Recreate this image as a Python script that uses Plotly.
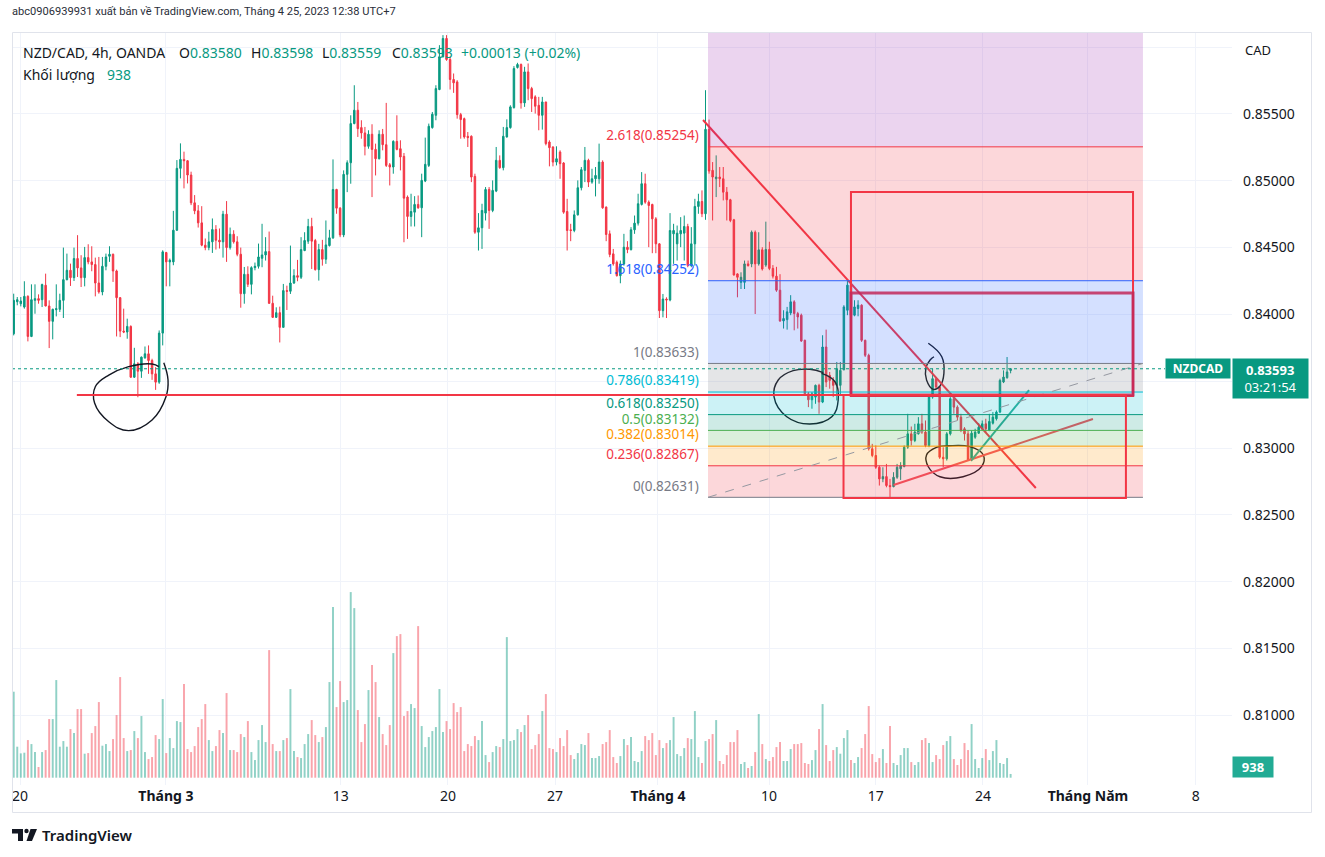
import plotly.graph_objects as go

# ---------------- data ----------------
opens = [
0.83855,0.84095,0.84080,0.84055,0.84135,0.83835,0.84105,0.84118,0.84110,0.84218,
0.84063,0.83948,0.84035,0.84038,0.84105,0.84260,0.84330,0.84275,0.84418,0.84348,
0.84275,0.84425,0.84393,0.84373,0.84235,0.84168,0.84360,0.84435,0.84450,0.84325,
0.84125,0.83875,0.83868,0.83910,0.83530,0.83630,0.83575,0.83675,0.83705,0.83655,
0.83555,0.83493,0.83860,0.84463,0.84393,0.84393,0.84630,0.85093,0.85160,0.85150,
0.85043,0.84835,0.84775,0.84685,0.84518,0.84500,0.84543,0.84635,0.84555,0.84543,
0.84750,0.84500,0.84600,0.84543,0.84450,0.84155,0.84300,0.84225,0.84350,0.84360,
0.84420,0.84445,0.84470,0.84083,0.83978,0.84013,0.83903,0.84178,0.84173,0.84235,
0.84290,0.84278,0.84478,0.84548,0.84658,0.84553,0.84335,0.84485,0.84413,0.84515,
0.84573,0.84935,0.84795,0.84595,0.85048,0.85135,0.85428,0.85528,0.85398,0.85358,
0.85258,0.85348,0.85235,0.85165,0.85348,0.85270,0.85120,0.85103,0.85295,0.85240,
0.85183,0.84878,0.84733,0.84765,0.84823,0.84798,0.84998,0.85115,0.85398,0.85490,
0.85683,0.85928,0.86065,0.85908,0.85758,0.85740,0.85495,0.85465,0.85333,0.85333,
0.85033,0.84615,0.84648,0.84758,0.84935,0.84778,0.84923,0.85153,0.85098,0.85328,
0.85398,0.85548,0.85848,0.85870,0.85583,0.85815,0.85690,0.85628,0.85565,0.85490,
0.85590,0.85290,0.85253,0.85140,0.85215,0.85133,0.84770,0.84633,0.84628,0.84745,
0.84948,0.85078,0.85153,0.84990,0.85015,0.85015,0.85140,0.84803,0.84603,0.84453,
0.84390,0.84290,0.84378,0.84503,0.84485,0.84633,0.84683,0.84823,0.84978,0.84840,
0.84823,0.84715,0.84528,0.84028,0.84115,0.84108,0.84603,0.84528,0.84603,0.84608,
0.84658,0.84365,0.84528,0.84808,0.84845,0.84753,0.85385,0.85078,0.85015,0.85028,
0.85015,0.84915,0.84858,0.84708,0.84303,0.84240,0.84240,0.84378,0.84378,0.84615,
0.84378,0.84483,0.84369,0.84486,0.84344,0.84286,0.84181,0.83951,0.83961,0.84011,
0.84094,0.84006,0.83994,0.83806,0.83406,0.83361,0.83381,0.83469,0.83344,0.83756,
0.83544,0.83506,0.83469,0.83469,0.83586,0.84031,0.84219,0.83994,0.84044,0.84069,
0.83806,0.83694,0.82994,0.82944,0.82856,0.82769,0.82786,0.82719,0.82711,0.82781,
0.82844,0.82861,0.83006,0.83106,0.83056,0.83106,0.83181,0.83119,0.83019,0.83381,
0.83519,0.83456,0.82931,0.82919,0.83106,0.83369,0.83306,0.83231,0.83144,0.83106,
0.82911,0.83081,0.83111,0.83144,0.83181,0.83131,0.83186,0.83219,0.83269,0.83494,
0.83526,0.83580]

highs = [
0.84155,0.84130,0.84130,0.84248,0.84143,0.84225,0.84225,0.84150,0.84230,0.84305,
0.84105,0.84043,0.84225,0.84155,0.84500,0.84455,0.84380,0.84500,0.84593,0.84443,
0.84505,0.84525,0.84510,0.84425,0.84430,0.84430,0.84455,0.84510,0.84455,0.84335,
0.84130,0.84043,0.83968,0.83918,0.83750,0.83643,0.83685,0.83760,0.83768,0.83668,
0.83605,0.83880,0.84480,0.84468,0.84418,0.84775,0.85155,0.85280,0.85218,0.85155,
0.85068,0.84893,0.84818,0.84810,0.84568,0.84618,0.84718,0.84668,0.84643,0.84775,
0.84848,0.84650,0.84630,0.84585,0.84500,0.84355,0.84360,0.84360,0.84388,0.84530,
0.84678,0.84578,0.84620,0.84140,0.84053,0.84058,0.84228,0.84215,0.84515,0.84338,
0.84408,0.84578,0.84615,0.84715,0.84723,0.84565,0.84528,0.84558,0.84703,0.84633,
0.85160,0.84940,0.84803,0.85078,0.85153,0.85490,0.85715,0.85590,0.85453,0.85403,
0.85378,0.85423,0.85278,0.85378,0.85388,0.85583,0.85133,0.85303,0.85490,0.85303,
0.85208,0.84890,0.84903,0.84885,0.84890,0.85053,0.85323,0.85428,0.85515,0.85715,
0.86015,0.86090,0.86090,0.85928,0.85803,0.85753,0.85508,0.85473,0.85365,0.85340,
0.85053,0.84758,0.84828,0.84953,0.84953,0.85003,0.85253,0.85190,0.85403,0.85460,
0.85565,0.85858,0.85883,0.85878,0.85853,0.85878,0.85703,0.85640,0.85628,0.85628,
0.85590,0.85303,0.85258,0.85258,0.85228,0.85140,0.84865,0.84678,0.84778,0.85003,
0.85103,0.85253,0.85165,0.85090,0.85103,0.85278,0.85153,0.84808,0.84628,0.84490,
0.84403,0.84403,0.84603,0.84548,0.84653,0.84740,0.84903,0.85065,0.85053,0.84853,
0.84828,0.84728,0.84533,0.84153,0.84128,0.84758,0.84678,0.84665,0.84728,0.84740,
0.84678,0.84653,0.84865,0.84903,0.84928,0.85678,0.85458,0.85140,0.85190,0.85103,
0.85103,0.84953,0.84865,0.84715,0.84308,0.84315,0.84403,0.84403,0.84628,0.84628,
0.84615,0.84503,0.84694,0.84544,0.84369,0.84356,0.84301,0.84031,0.84056,0.84144,
0.84106,0.84019,0.84006,0.83811,0.83419,0.83419,0.83475,0.83481,0.83844,0.83886,
0.83569,0.83531,0.83644,0.83644,0.84069,0.84256,0.84244,0.84106,0.84106,0.84076,
0.83811,0.83706,0.83031,0.83019,0.82869,0.82856,0.82881,0.82769,0.82819,0.82881,
0.82894,0.83019,0.83256,0.83161,0.83181,0.83231,0.83256,0.83206,0.83394,0.83594,
0.83531,0.83461,0.83006,0.83119,0.83381,0.83381,0.83319,0.83256,0.83156,0.83131,
0.83131,0.83144,0.83186,0.83206,0.83219,0.83256,0.83269,0.83281,0.83519,0.83581,
0.83681,0.83598]

lows = [
0.83843,0.84068,0.84060,0.84043,0.83798,0.83830,0.84005,0.84080,0.84055,0.84060,
0.83748,0.83813,0.83985,0.84018,0.83973,0.84255,0.84213,0.84250,0.84280,0.84205,
0.84210,0.84375,0.84323,0.84135,0.84155,0.84143,0.84330,0.84393,0.84243,0.83835,
0.83830,0.83860,0.83818,0.83525,0.83525,0.83380,0.83525,0.83668,0.83555,0.83510,
0.83435,0.83480,0.83768,0.84210,0.84210,0.84368,0.84625,0.85018,0.84943,0.84980,
0.84818,0.84750,0.84650,0.84510,0.84480,0.84480,0.84460,0.84485,0.84493,0.84425,
0.84393,0.84485,0.84530,0.84435,0.84050,0.84080,0.84205,0.84150,0.84330,0.84343,
0.84353,0.84403,0.84078,0.83973,0.83973,0.83790,0.83903,0.84033,0.84153,0.84228,
0.84248,0.84265,0.84473,0.84528,0.84340,0.84328,0.84253,0.84365,0.84378,0.84508,
0.84565,0.84753,0.84578,0.84578,0.84915,0.84978,0.85423,0.85328,0.85315,0.85190,
0.85240,0.84878,0.85040,0.85160,0.85228,0.85103,0.84965,0.85053,0.85228,0.85078,
0.84540,0.84565,0.84658,0.84658,0.84790,0.84578,0.84990,0.85103,0.85390,0.85453,
0.85678,0.85923,0.85898,0.85683,0.85658,0.85465,0.85315,0.85315,0.85253,0.84990,
0.84603,0.84478,0.84490,0.84703,0.84640,0.84765,0.84915,0.85090,0.85078,0.85323,
0.85390,0.85540,0.85840,0.85540,0.85553,0.85603,0.85515,0.85503,0.85378,0.85383,
0.85265,0.85108,0.85108,0.85115,0.85015,0.84753,0.84478,0.84548,0.84615,0.84740,
0.84928,0.84990,0.84953,0.84978,0.84883,0.84978,0.84790,0.84548,0.84428,0.84365,
0.84283,0.84233,0.84365,0.84458,0.84478,0.84603,0.84665,0.84815,0.84828,0.84503,
0.84458,0.84458,0.83973,0.83978,0.83973,0.84098,0.84378,0.84403,0.84503,0.84403,
0.84353,0.84353,0.84365,0.84753,0.84728,0.84708,0.85053,0.84703,0.84878,0.84953,
0.84853,0.84703,0.84690,0.84290,0.84128,0.84190,0.84190,0.84358,0.84353,0.84003,
0.84365,0.84328,0.84356,0.84331,0.84269,0.84169,0.83944,0.83894,0.83886,0.83994,
0.83881,0.83894,0.83794,0.83401,0.83306,0.83294,0.83331,0.83256,0.83336,0.83456,
0.83444,0.83381,0.83356,0.83394,0.83581,0.83994,0.83981,0.83986,0.83986,0.83794,
0.83681,0.82981,0.82931,0.82844,0.82719,0.82744,0.82706,0.82631,0.82706,0.82769,
0.82761,0.82856,0.82994,0.83019,0.83044,0.83101,0.83106,0.83006,0.83006,0.83369,
0.83444,0.82919,0.82856,0.82906,0.83094,0.83256,0.83206,0.83119,0.83056,0.82906,
0.82901,0.83069,0.83106,0.83131,0.83119,0.83126,0.83176,0.83206,0.83261,0.83486,
0.83519,0.83559]

closes = [
0.84105,0.84110,0.84100,0.84135,0.83835,0.84110,0.84118,0.84105,0.84223,0.84063,
0.83948,0.84038,0.84043,0.84105,0.84260,0.84330,0.84275,0.84418,0.84348,0.84275,
0.84425,0.84393,0.84373,0.84235,0.84168,0.84360,0.84430,0.84450,0.84325,0.84125,
0.83875,0.83868,0.83910,0.83530,0.83630,0.83575,0.83680,0.83705,0.83655,0.83555,
0.83493,0.83860,0.84468,0.84393,0.84405,0.84630,0.85093,0.85160,0.85150,0.85043,
0.84835,0.84775,0.84685,0.84518,0.84500,0.84543,0.84635,0.84555,0.84543,0.84750,
0.84500,0.84600,0.84543,0.84450,0.84155,0.84300,0.84225,0.84350,0.84360,0.84430,
0.84445,0.84470,0.84083,0.83978,0.84013,0.83903,0.84178,0.84173,0.84235,0.84290,
0.84278,0.84485,0.84553,0.84658,0.84548,0.84335,0.84485,0.84413,0.84520,0.84573,
0.84935,0.84795,0.84595,0.85048,0.85135,0.85428,0.85528,0.85390,0.85358,0.85258,
0.85348,0.85235,0.85165,0.85348,0.85270,0.85115,0.85103,0.85295,0.85235,0.85178,
0.84870,0.84733,0.84770,0.84823,0.84798,0.85003,0.85123,0.85408,0.85498,0.85690,
0.85928,0.86065,0.85908,0.85758,0.85733,0.85495,0.85458,0.85328,0.85323,0.85028,
0.84615,0.84648,0.84778,0.84935,0.84778,0.84928,0.85153,0.85098,0.85333,0.85398,
0.85553,0.85840,0.85870,0.85583,0.85815,0.85690,0.85615,0.85558,0.85490,0.85590,
0.85278,0.85248,0.85140,0.85165,0.85128,0.84765,0.84628,0.84628,0.84745,0.84948,
0.85083,0.85153,0.84990,0.85015,0.85040,0.85140,0.84798,0.84598,0.84448,0.84378,
0.84290,0.84378,0.84503,0.84485,0.84633,0.84683,0.84828,0.84978,0.84840,0.84815,
0.84715,0.84528,0.84028,0.84115,0.84108,0.84628,0.84628,0.84608,0.84628,0.84658,
0.84365,0.84528,0.84808,0.84845,0.84753,0.85385,0.85073,0.85028,0.85028,0.85015,
0.84915,0.84858,0.84703,0.84295,0.84278,0.84278,0.84378,0.84365,0.84615,0.84378,
0.84483,0.84340,0.84486,0.84344,0.84286,0.84181,0.83951,0.83969,0.84019,0.84094,
0.84006,0.83981,0.83801,0.83406,0.83361,0.83406,0.83469,0.83344,0.83756,0.83494,
0.83506,0.83469,0.83594,0.83581,0.84056,0.84219,0.83994,0.84056,0.84069,0.83806,
0.83694,0.82994,0.82944,0.82856,0.82769,0.82786,0.82719,0.82711,0.82781,0.82856,
0.82869,0.83006,0.83106,0.83056,0.83119,0.83181,0.83119,0.83019,0.83381,0.83519,
0.83456,0.82931,0.82919,0.83106,0.83369,0.83306,0.83231,0.83131,0.83106,0.82911,
0.83111,0.83119,0.83156,0.83181,0.83144,0.83199,0.83231,0.83269,0.83506,0.83531,
0.83569,0.83593]

volumes = [
21500,7750,6080,6250,9410,8410,6410,2670,6410,6910,
14660,14660,24410,7750,9160,7750,12160,11160,17160,17160,
6000,6160,11160,12910,18910,8000,8410,6660,9660,15660,
25160,9910,6660,6910,11660,9910,15410,6410,4660,5160,
10660,9660,19660,6160,9910,7410,14160,13910,23410,7160,
6410,7910,12660,14660,18410,9410,6660,7910,11910,11160,
21160,6910,6910,6410,10910,10160,14160,6410,4410,9410,
13160,8910,31900,8410,6660,6660,9410,9910,22160,6660,
5160,4910,8410,10910,14410,10660,8910,10160,12660,23910,
42650,17660,24160,18910,19410,46400,42400,16910,8910,13410,
21910,28150,23910,15160,10910,8160,13160,31150,35400,35900,
15410,16660,18410,17410,37900,12910,7660,10160,11660,12660,
22160,11410,14160,12160,18660,16410,17660,6660,8410,7910,
10410,9410,14160,5660,3910,6410,7910,7660,9660,35150,
9160,9410,12160,11410,13160,15660,7160,8160,10910,16660,
20910,7410,7160,6410,9910,7910,11910,5660,4660,6160,
8410,8160,11160,4910,4910,5410,8410,8910,11910,5160,
3670,5410,9660,8160,10160,4170,3910,6660,10410,9410,
11160,5660,9410,7410,8660,9410,15160,5910,5410,7410,
9910,9660,16660,5160,3670,9160,9660,10910,14410,4170,
3420,5660,8910,8910,11910,3420,3910,2420,2920,6410,
15910,8410,4660,4170,5160,7660,8910,4170,4170,7160,
8410,8410,8660,3670,3420,4410,6910,12160,18410,8160,
4170,6910,7660,6000,9910,11910,4410,3670,5160,7410,
10910,17910,5910,3910,4910,7160,3670,12910,3670,3170,
5660,7410,7410,3910,3170,3910,9410,9910,8660,3910,
5660,4660,8160,9160,10410,4660,3170,4660,8660,6910,
13410,4660,2420,4910,7160,4410,6660,9410,3670,3420,
4910,938]

assert len(opens) == len(highs) == len(lows) == len(closes) == len(volumes)
bar_index = list(range(len(closes)))

# time axis: bar index where each labelled date starts
date_tick_pos = [1.8, 42.9, 92.2, 122.4, 152.6, 181.6, 212.9, 243.0, 273.2, 302.8, 333.2]
date_tick_text = ["20", "<b>Tháng 3</b>", "13", "20", "27", "<b>Tháng 4</b>",
                  "10", "17", "24", "<b>Tháng Năm</b>", "8"]

# 0.835 and 0.860 labels are hidden behind the price tag / currency label in the reference
price_ticks = [0.810, 0.815, 0.820, 0.825, 0.830, 0.835, 0.840, 0.845, 0.850, 0.855, 0.860]
price_tick_text = ["0.81000", "0.81500", "0.82000", "0.82500", "0.83000", "",
                   "0.84000", "0.84500", "0.85000", "0.85500", ""]

last_price = 0.83593

# Fibonacci retracement drawing
fib_x0, fib_x1 = 195.7, 318.3
fib_prices = [0.82631, 0.82867, 0.83014, 0.83132, 0.83250, 0.83419, 0.83633, 0.84252, 0.85254, 0.86256]
fib_labels = ["0(0.82631)", "0.236(0.82867)", "0.382(0.83014)", "0.5(0.83132)", "0.618(0.83250)",
              "0.786(0.83419)", "1(0.83633)", "1.618(0.84252)", "2.618(0.85254)", "3.618(0.86256)"]
fib_line_colors = ["#787b86", "#f23645", "#ff9800", "#4caf50", "#089981",
                   "#00bcd4", "#787b86", "#2962ff", "#f23645", "#9c27b0"]
fib_zone_colors = ["rgba(242,54,69,0.2)", "rgba(255,152,0,0.2)", "rgba(76,175,80,0.2)",
                   "rgba(8,153,129,0.2)", "rgba(0,188,212,0.2)", "rgba(120,123,134,0.2)",
                   "rgba(41,98,255,0.2)", "rgba(242,54,69,0.2)", "rgba(156,39,176,0.2)"]

# other drawings: (bar index, price)
down_line = [(194.3, 0.85455), (288.1, 0.82701)]
rise_line = [(248.0, 0.82723), (304.2, 0.83217)]
green_line = [(270.0, 0.82910), (286.2, 0.83434)]
support_line = [(17.8, 0.83397), (311.0, 0.83397)]
rect_upper = [(236.0, 0.83389), (315.5, 0.84916)]
rect_zone = [(236.0, 0.83397), (315.5, 0.84160)]
rect_lower = [(233.9, 0.82626), (313.5, 0.83397)]

circle1_x = [42.3, 43.5, 42.9, 39.0, 32.4, 26.8, 22.8, 23.0, 26.8, 32.4, 39.0, 40.9]
circle1_y = [0.83638, 0.83509, 0.83382, 0.83210, 0.83130, 0.83197, 0.83337, 0.83459, 0.83546, 0.83609, 0.83629, 0.83609]
circle2_x = [227.7, 231.5, 232.4, 230.6, 224.4, 217.9, 214.3, 215.5, 219.7, 224.4, 228.2]
circle2_y = [0.83559, 0.83496, 0.83359, 0.83234, 0.83180, 0.83234, 0.83384, 0.83509, 0.83579, 0.83589, 0.83564]
circle3_x = [257.8, 261.6, 262.2, 261.1, 259.2, 257.3, 257.1, 258.3, 259.4]
circle3_y = [0.83784, 0.83683, 0.83559, 0.83464, 0.83439, 0.83509, 0.83597, 0.83659, 0.83683]
circle4_x = [263.0, 269.5, 273.3, 272.8, 267.6, 261.1, 257.8, 257.3, 260.1, 264.4]
circle4_y = [0.83015, 0.83010, 0.82948, 0.82860, 0.82785, 0.82785, 0.82860, 0.82948, 0.83005, 0.83017]

# ---------------- styling ----------------
FONT = "Noto Sans"
TXT = "#131722"
UP = "#089981"
DOWN = "#f23645"
GRID = "#f0f3fa"

# plot area on screen: x 12..1232, y 33..785 (body margin is removed by post_script)
W, H = 1325, 857
L_M, T_M = 12, 33
PW, PH = 1220, 752
R_M, B_M = W - L_M - PW, H - T_M - PH
SX0, SY1 = 12, 785


def px_x(px):
    return (px - SX0) / PW


def px_y(py):
    return (SY1 - py) / PH


vol_colors = ["rgba(8,153,129,0.45)" if c >= o else "rgba(242,54,69,0.45)"
              for o, c in zip(opens, closes)]

fig = go.Figure()

# fib labels (drawn under the candles)
fig.add_trace(go.Scatter(
    x=[fib_x0 - 2.6] * 9, y=[p + 0.00025 for p in fib_prices[:9]], mode="text", text=fib_labels[:9],
    textposition="top left",
    textfont=dict(family=FONT, size=13.5, color=fib_line_colors[:9]),
    hoverinfo="skip", showlegend=False, cliponaxis=False))

fig.add_trace(go.Bar(
    x=bar_index, y=volumes, yaxis="y2", marker=dict(color=vol_colors, line=dict(width=0)),
    width=0.55, hoverinfo="skip", showlegend=False))

fig.add_trace(go.Candlestick(
    x=bar_index, open=opens, high=highs, low=lows, close=closes,
    increasing=dict(line=dict(color=UP, width=1), fillcolor=UP),
    decreasing=dict(line=dict(color=DOWN, width=1), fillcolor=DOWN),
    whiskerwidth=0, hoverinfo="skip", showlegend=False))

for cx, cy in [(circle1_x, circle1_y), (circle2_x, circle2_y),
               (circle3_x, circle3_y), (circle4_x, circle4_y)]:
    fig.add_trace(go.Scatter(x=cx, y=cy, mode="lines",
                             line=dict(color="#131722", width=1.4, shape="spline", smoothing=1.2),
                             hoverinfo="skip", showlegend=False))

shapes = []


def data_line(p0, p1, color, width, dash="solid"):
    shapes.append(dict(type="line", xref="x", yref="y", x0=p0[0], y0=p0[1], x1=p1[0], y1=p1[1],
                       line=dict(color=color, width=width, dash=dash), layer="above"))


def data_rect(p0, p1, color, width):
    shapes.append(dict(type="rect", xref="x", yref="y", x0=p0[0], y0=p0[1], x1=p1[0], y1=p1[1],
                       line=dict(color=color, width=width), fillcolor="rgba(0,0,0,0)", layer="above"))


data_line(down_line[0], down_line[1], "#f23645", 2)
data_line(rise_line[0], rise_line[1], "#f2545f", 2)
data_line(green_line[0], green_line[1], "#2fae98", 2)

for i in range(9):
    shapes.append(dict(type="rect", xref="x", yref="y", x0=fib_x0, x1=fib_x1,
                       y0=fib_prices[i], y1=fib_prices[i + 1], fillcolor=fib_zone_colors[i],
                       line=dict(width=0), layer="above"))
for i in range(10):
    data_line((fib_x0, fib_prices[i]), (fib_x1, fib_prices[i]), fib_line_colors[i], 1)
data_line((fib_x0, fib_prices[0]), (fib_x1, fib_prices[6]), "#9598a1", 1, "dash")

data_line(support_line[0], support_line[1], "#f23645", 2)
data_rect(rect_upper[0], rect_upper[1], "#f23645", 2)
data_rect(rect_zone[0], rect_zone[1], "rgba(194,40,90,0.85)", 3)
data_rect(rect_lower[0], rect_lower[1], "#f23645", 2)

# last price dotted line
shapes.append(dict(type="line", xref="paper", yref="y", x0=0, x1=px_x(1165), y0=last_price, y1=last_price,
                   line=dict(color=UP, width=1, dash="dot"), layer="above"))

# outer frame
shapes.append(dict(type="rect", xref="paper", yref="paper", x0=px_x(12.5), x1=px_x(1311.5),
                   y0=px_y(812.5), y1=px_y(32.5), line=dict(color="#e0e3eb", width=1),
                   fillcolor="rgba(0,0,0,0)", layer="above"))


# TradingView logo mark
def P(x, y):
    return f"{px_x(x):.5f},{px_y(y):.5f}"


shapes.append(dict(type="path", xref="paper", yref="paper",
                   path=f"M{P(12,829)} L{P(23,829)} L{P(23,841)} L{P(18,841)} L{P(18,833.5)} L{P(12,833.5)} Z",
                   fillcolor=TXT, line=dict(width=0)))
shapes.append(dict(type="circle", xref="paper", yref="paper", x0=px_x(24.3), x1=px_x(28.7),
                   y0=px_y(833.2), y1=px_y(828.8), fillcolor=TXT, line=dict(width=0)))
shapes.append(dict(type="path", xref="paper", yref="paper",
                   path=f"M{P(30.5,829)} L{P(37,829)} L{P(32,841)} L{P(26.5,841)} Z",
                   fillcolor=TXT, line=dict(width=0)))

annotations = []


def note(text, x, y, size=14, color=TXT, xanchor="left", yanchor="middle", family=FONT, **kw):
    d = dict(text=text, x=px_x(x), y=px_y(y), xref="paper", yref="paper", showarrow=False,
             xanchor=xanchor, yanchor=yanchor, font=dict(family=family, size=size, color=color))
    d.update(kw)
    annotations.append(d)


TEAL = "#089981"
note("abc0906939931 xuất bản về TradingView.com, Tháng 4 25, 2023 12:38 UTC+7", 10, 12,
     size=11.1, family="Roboto", color="#2a2e39")
note("NZD/CAD, 4h, OANDA", 21, 53)
note(f"O<span style='color:{TEAL}'>0.83580</span>", 177, 53)
note(f"H<span style='color:{TEAL}'>0.83598</span>", 249, 53)
note(f"L<span style='color:{TEAL}'>0.83559</span>", 320, 53)
note(f"C<span style='color:{TEAL}'>0.83593</span>", 390, 53)
note("+0.00013 (+0.02%)", 459, 53, color=TEAL)
note("Khối lượng", 21, 74)
note("938", 105, 74, color=TEAL)
note("CAD", 1243, 50, size=13)
note("TradingView", 40, 835, size=15, font=dict(family=FONT, size=15, color=TXT, weight=600))

annotations.append(dict(text="<b>NZDCAD</b>", x=px_x(1198), y=last_price, xref="paper", yref="y",
                        showarrow=False, xanchor="center", yanchor="middle",
                        font=dict(family=FONT, size=12, color="white"), bgcolor=UP,
                        width=60, height=15, borderpad=2))
annotations.append(dict(text="<b>0.83593</b><br>03:21:54", x=px_x(1232), y=last_price, xref="paper",
                        yref="y", showarrow=False, xanchor="left", yanchor="top", yshift=10.5,
                        font=dict(family=FONT, size=13, color="white"), bgcolor=UP,
                        width=71, height=35, borderpad=2, align="center"))
annotations.append(dict(text="<b>938</b>", x=px_x(1232), y=px_y(767), xref="paper", yref="paper",
                        showarrow=False, xanchor="left", yanchor="middle",
                        font=dict(family=FONT, size=13, color="white"), bgcolor="#22ab94",
                        width=36, height=16, borderpad=2))

fig.update_layout(
    width=W, height=H, margin=dict(l=L_M, r=R_M, t=T_M, b=B_M),
    paper_bgcolor="white", plot_bgcolor="white", showlegend=False, hovermode=False,
    boxgap=0.4, font=dict(family=FONT, color=TXT),
    xaxis=dict(range=[-0.48, 343.4], tickvals=date_tick_pos, ticktext=date_tick_text,
               showgrid=True, gridcolor=GRID, zeroline=False, showline=False, ticks="",
               tickfont=dict(family=FONT, size=14, color=TXT), rangeslider=dict(visible=False),
               ticklabelstandoff=1),
    yaxis=dict(side="right", range=[0.80478, 0.86106], tickvals=price_ticks, ticktext=price_tick_text,
               showgrid=True, gridcolor=GRID, zeroline=False, showline=False, ticks="",
               ticklabelstandoff=10, tickfont=dict(family=FONT, size=14, color=TXT)),
    yaxis2=dict(overlaying="y", range=[-1825, 186175], visible=False),
    shapes=shapes, annotations=annotations,
)

fig.write_html("out.html", config={"displayModeBar": False},
               post_script="document.body.style.margin='0px';document.body.style.overflow='hidden';")
